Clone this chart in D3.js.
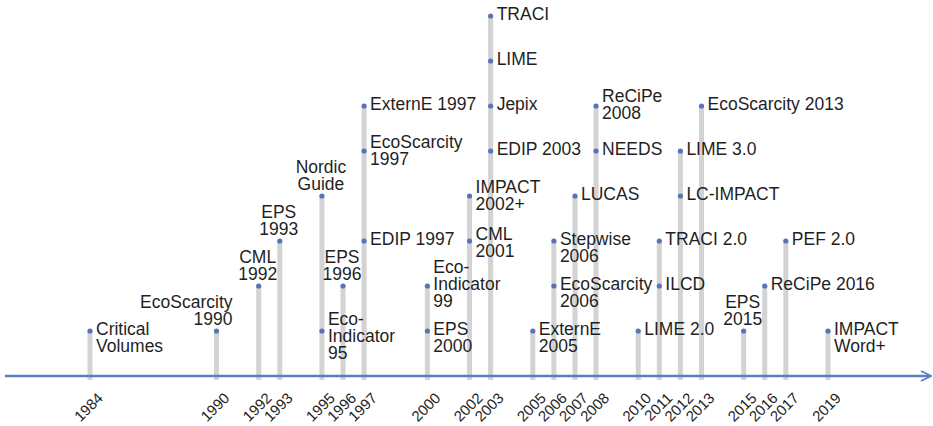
<!DOCTYPE html>
<html>
<head>
<meta charset="utf-8">
<script src="https://cdn.jsdelivr.net/npm/d3@7"></script>
<style>
  body { margin: 0; background: #fff; }
  svg text { font-family: "Liberation Sans", Arial, sans-serif; fill: #1f1f1f; }
</style>
</head>
<body>
<svg id="chart" width="933" height="426"></svg>
<script>
// years shown on the axis
var tickYears = [1984, 1990, 1992, 1993, 1995, 1996, 1997, 2000, 2002, 2003, 2005,
                 2006, 2007, 2008, 2010, 2011, 2012, 2013, 2015, 2016, 2017, 2019];

// methods: name (with line breaks), year, stack level
var methodNames = [
  "Critical\nVolumes", "EcoScarcity\n1990", "CML\n1992", "EPS\n1993", "Nordic\nGuide",
  "Eco-\nIndicator\n95", "EPS\n1996", "EDIP 1997", "EcoScarcity\n1997", "ExternE 1997",
  "EPS\n2000", "Eco-\nIndicator\n99", "IMPACT\n2002+", "CML\n2001", "EDIP 2003",
  "Jepix", "LIME", "TRACI", "ExternE\n2005", "EcoScarcity\n2006",
  "Stepwise\n2006", "LUCAS", "NEEDS", "ReCiPe\n2008", "LIME 2.0",
  "ILCD", "TRACI 2.0", "LC-IMPACT", "LIME 3.0", "EcoScarcity 2013",
  "EPS\n2015", "ReCiPe 2016", "PEF 2.0", "IMPACT\nWord+"
];
var methodYears = [
  1984, 1990, 1992, 1993, 1995,
  1995, 1996, 1997, 1997, 1997,
  2000, 2000, 2002, 2002, 2003,
  2003, 2003, 2003, 2005, 2006,
  2006, 2007, 2008, 2008, 2010,
  2011, 2011, 2012, 2012, 2013,
  2015, 2016, 2017, 2019
];
var methodLevels = [
  1, 1, 2, 3, 4,
  1, 2, 3, 5, 6,
  1, 2, 4, 3, 5,
  6, 7, 8, 1, 2,
  3, 4, 5, 6, 1,
  2, 3, 4, 5, 6,
  1, 2, 3, 1
];

// where each label sits relative to its dot (layout only)
var labelPlace = {
  "EcoScarcity\n1990": "aboveEnd",
  "CML\n1992": "above", "EPS\n1993": "above", "Nordic\nGuide": "above",
  "EPS\n1996": "above", "EPS\n2015": "above",
  "Eco-\nIndicator\n95": -0.55, "Eco-\nIndicator\n99": -1,
  "EcoScarcity\n1997": -0.4, "IMPACT\n2002+": -0.4, "CML\n2001": -0.25, "ReCiPe\n2008": -0.45
};

var svg = d3.select("#chart");
var axisY = 376, levelStep = 45, lineH = 17;

var x = d3.scaleLinear().domain([1984, 2019]).range([90, 828]);
var y = d3.scaleLinear().domain([0, 8]).range([axisY, axisY - 8 * levelStep]);

var methods = methodNames.map(function (n, i) {
  return { name: n, year: methodYears[i], level: methodLevels[i] };
});

// stems: one per year, up to the highest method
var tops = d3.rollups(methods, function (v) { return d3.max(v, function (d) { return d.level; }); },
                      function (d) { return d.year; });
svg.append("g").selectAll("line")
  .data(tops)
  .enter()
  .append("line")
    .attr("x1", function (d) { return x(d[0]); })
    .attr("x2", function (d) { return x(d[0]); })
    .attr("y1", axisY + 4)
    .attr("y2", function (d) { return y(d[1]); })
    .style("stroke", "#d3d3d3")
    .style("stroke-width", 5);

// axis line with arrow
svg.append("defs").append("marker")
    .attr("id", "arrow")
    .attr("viewBox", "0 0 12 12")
    .attr("refX", 11).attr("refY", 6)
    .attr("markerWidth", 12).attr("markerHeight", 12)
    .attr("markerUnits", "userSpaceOnUse")
    .attr("orient", "auto")
  .append("path")
    .attr("d", "M1,1 L11,6 L1,11")
    .style("fill", "none")
    .style("stroke", "#5a7ec6")
    .style("stroke-width", 1.6);

svg.append("line")
    .attr("x1", 5).attr("x2", 931)
    .attr("y1", axisY).attr("y2", axisY)
    .style("stroke", "#5a7ec6")
    .style("stroke-width", 2.5)
    .attr("marker-end", "url(#arrow)");

// year labels, rotated
var axis = d3.axisBottom(x).tickValues(tickYears).tickFormat(d3.format("d")).tickSize(0);
var gAxis = svg.append("g").attr("transform", "translate(0," + axisY + ")").call(axis);
gAxis.select(".domain").remove();
gAxis.selectAll(".tick")
    .attr("transform", function (d) { return "translate(" + (x(d) + 14) + ",23) rotate(-45)"; });
gAxis.selectAll(".tick text")
    .attr("x", 0).attr("y", 0).attr("dy", 0)
    .attr("font-size", 15)
    .attr("font-family", "'Liberation Sans', Arial, sans-serif")
    .attr("fill", "#1f1f1f")
    .attr("text-anchor", "end");

// dots
svg.append("g").selectAll("circle")
  .data(methods)
  .enter()
  .append("circle")
    .attr("cx", function (d) { return x(d.year); })
    .attr("cy", function (d) { return y(d.level); })
    .attr("r", 2.6)
    .style("fill", "#5873b8");

// labels
var labels = svg.append("g").selectAll("text")
  .data(methods)
  .enter()
  .append("text")
    .style("font-size", "17.5px")
    .attr("dominant-baseline", "central");

labels.each(function (d) {
  var t = d3.select(this);
  var lines = d.name.split("\n");
  var place = labelPlace[d.name];
  var cx = x(d.year), cy = y(d.level);
  lines.forEach(function (line, i) {
    var tx, ty, anchor;
    if (place === "above" || place === "aboveEnd") {
      ty = cy - 12.5 - (lines.length - 1 - i) * lineH;
      tx = place === "above" ? cx - 1 : cx + 16;
      anchor = place === "above" ? "middle" : "end";
    } else {
      var shift = typeof place === "number" ? place : 0;
      tx = cx + 6;
      ty = cy - 2.5 + (i + shift) * lineH;
      anchor = "start";
    }
    t.append("tspan")
      .attr("x", tx)
      .attr("y", ty)
      .attr("text-anchor", anchor)
      .text(line);
  });
});
</script>
</body>
</html>
